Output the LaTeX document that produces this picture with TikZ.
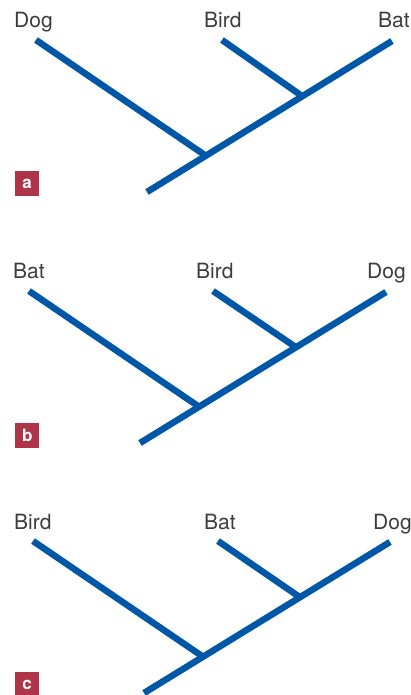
\documentclass[tikz,border=0pt]{standalone}
\usepackage{fontspec}
\setmainfont{TeX Gyre Heros}
\usetikzlibrary{calc}
\definecolor{branchblue}{RGB}{0,87,168}
\definecolor{tagred}{RGB}{176,52,72}
\definecolor{labelgray}{RGB}{60,60,60}
\tikzset{
  branch/.style={draw=branchblue, line width=6.5pt, line cap=butt},
  taxon/.style={anchor=base west, inner sep=0pt, text=labelgray, font=\fontsize{21}{21}\selectfont},
  tag/.style={fill=tagred, text=white, minimum width=24pt, minimum height=25pt, inner sep=0pt, anchor=north west, font=\fontsize{17}{17}\selectfont\bfseries}
}
\begin{document}
\begin{tikzpicture}[x=1pt,y=-1pt]
\useasboundingbox (0,0) rectangle (411,695);
% ---------- panel a ----------
\node[taxon] (aDog) at (14,28) {Dog};
\node[taxon] (aBird) at (204,28) {Bird};
\node[taxon] (aBat) at (378,28) {Bat};
\coordinate (aDogT) at (36,40);
\coordinate (aBirdT) at (222,40);
\coordinate (aBatT) at (392,41);
\coordinate (aRoot) at (147,192);
\coordinate (aN1) at ($(aRoot)!0.634!(aBatT)$);
\coordinate (aN2) at ($(aRoot)!0.240!(aBatT)$);
\path[branch] (aRoot) -- (aBatT);
\path[branch] (aBirdT) -- (aN1);
\path[branch] (aDogT) -- (aN2);
\node[tag] (aTag) at (15,171) {a};
% ---------- panel b ----------
\node[taxon] (bBat) at (13,278) {Bat};
\node[taxon] (bBird) at (196,278) {Bird};
\node[taxon] (bDog) at (367,278) {Dog};
\coordinate (bBatT) at (29,291);
\coordinate (bBirdT) at (213,291);
\coordinate (bDogT) at (386,292);
\coordinate (bRoot) at (140,443);
\coordinate (bN1) at ($(bRoot)!0.634!(bDogT)$);
\coordinate (bN2) at ($(bRoot)!0.240!(bDogT)$);
\path[branch] (bRoot) -- (bDogT);
\path[branch] (bBirdT) -- (bN1);
\path[branch] (bBatT) -- (bN2);
\node[tag] (bTag) at (15,423) {b};
% ---------- panel c ----------
\node[taxon] (cBird) at (14,529) {Bird};
\node[taxon] (cBat) at (204,529) {Bat};
\node[taxon] (cDog) at (373,529) {Dog};
\coordinate (cBirdT) at (33,541);
\coordinate (cBatT) at (218,541);
\coordinate (cDogT) at (390,542);
\coordinate (cRoot) at (144,693);
\coordinate (cN1) at ($(cRoot)!0.634!(cDogT)$);
\coordinate (cN2) at ($(cRoot)!0.240!(cDogT)$);
\path[branch] (cRoot) -- (cDogT);
\path[branch] (cBatT) -- (cN1);
\path[branch] (cBirdT) -- (cN2);
\node[tag] (cTag) at (15,672) {c};
\end{tikzpicture}
\end{document}
